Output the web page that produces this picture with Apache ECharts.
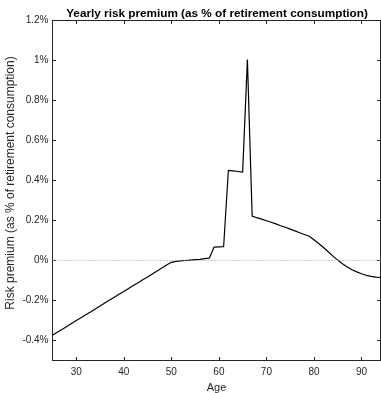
<!DOCTYPE html>
<html><head><meta charset="utf-8">
<script src="https://cdn.jsdelivr.net/npm/echarts@6/dist/echarts.min.js"></script>
<style>html,body{margin:0;padding:0;background:#fff}#c{width:381px;height:393px}</style>
</head><body><div id="c"></div>
<script>
var ages = [25,26,27,28,29,30,31,32,33,34,35,36,37,38,39,40,41,42,43,44,45,46,47,48,49,50,
  51,52,53,54,55,56,57,58,59,60,61,62,63,64,65,66,67,68,69,70,71,72,73,74,75,76,77,78,79,
  80,81,82,83,84,85,86,87,88,89,90,91,92,93,94];
var premium = [-0.374,-0.359,-0.345,-0.330,-0.315,-0.300,-0.286,-0.271,-0.257,-0.242,-0.228,-0.213,-0.198,-0.184,-0.169,-0.155,-0.140,-0.125,-0.111,-0.096,-0.082,-0.067,-0.052,-0.038,-0.023,-0.009,
  -0.004,-0.002,0.000,0.002,0.004,0.006,0.009,0.012,0.067,0.068,0.069,0.451,0.448,0.445,0.442,1.005,0.222,0.214,0.207,0.199,0.191,0.183,0.174,0.166,0.157,0.148,0.139,0.130,0.121,
  0.104,0.085,0.065,0.044,0.022,0.002,-0.016,-0.032,-0.046,-0.057,-0.066,-0.074,-0.079,-0.083,-0.085];
var xTicks = [30,40,50,60,70,80,90];
var yTicks = [-0.4,-0.2,0,0.2,0.4,0.6,0.8,1.0,1.2];
var titleText = 'Yearly risk premium (as % of retirement consumption)';
var yName = 'Risk premium (as % of retirement consumption)';
var xName = 'Age';

var data = ages.map(function(a,i){return [a, premium[i]];});
var font = 'Liberation Sans, Arial, Helvetica, sans-serif';
var axisCol = '#262626';
var chart = echarts.init(document.getElementById('c'), null, {renderer:'canvas'});
function yfmt(v){ return parseFloat(Number(v).toFixed(1)) + '%'; }
chart.setOption({
  animation:false,
  title:{text:titleText, left:212, top:3, textAlign:'center',
    textStyle:{fontFamily:font, fontSize:11.75, fontWeight:'bold', color:'#000'}},
  graphic:[{type:'text', x:11, y:183, rotation:Math.PI/2, silent:true,
    style:{text:yName, fontFamily:font, fontSize:12, fill:axisCol, align:'center', verticalAlign:'middle'}}],
  grid:{left:52.5, right:0.5, top:20.5, bottom:32.5, containLabel:false, outerBoundsMode:'none'},
  xAxis:[{type:'value', min:25, max:94, position:'bottom',
    name:xName, nameLocation:'middle', nameGap:20,
    nameTextStyle:{fontFamily:font, fontSize:11, color:axisCol},
    axisLine:{show:true, onZero:false, lineStyle:{color:axisCol, width:1}},
    axisTick:{show:true, inside:true, length:3.5, customValues:xTicks, lineStyle:{color:axisCol}},
    axisLabel:{show:true, customValues:xTicks, margin:7, fontFamily:font, fontSize:10, color:axisCol},
    splitLine:{show:false}},
   {type:'value', min:25, max:94, position:'top',
    axisLine:{show:true, onZero:false, lineStyle:{color:axisCol, width:1}},
    axisTick:{show:true, inside:true, length:3.5, customValues:xTicks, lineStyle:{color:axisCol}},
    axisLabel:{show:false}, splitLine:{show:false}}],
  yAxis:[{type:'value', min:-0.5, max:1.2, position:'left',
    axisLine:{show:true, onZero:false, lineStyle:{color:axisCol, width:1}},
    axisTick:{show:true, inside:true, length:3.5, customValues:yTicks, lineStyle:{color:axisCol}},
    axisLabel:{show:true, customValues:yTicks, margin:4, formatter:yfmt, fontFamily:font, fontSize:10, color:axisCol},
    splitLine:{show:false}},
   {type:'value', min:-0.5, max:1.2, position:'right',
    axisLine:{show:true, onZero:false, lineStyle:{color:axisCol, width:1}},
    axisTick:{show:true, inside:true, length:3.5, customValues:yTicks, lineStyle:{color:axisCol}},
    axisLabel:{show:false}, splitLine:{show:false}}],
  series:[{type:'line', data:data, xAxisIndex:0, yAxisIndex:0, symbol:'none',
    lineStyle:{color:'#000', width:1.2},
    markLine:{silent:true, symbol:['none','none'], label:{show:false},
      lineStyle:{color:'#999', type:[1,2], width:1}, data:[{yAxis:0}]}}]
});
</script></body></html>
